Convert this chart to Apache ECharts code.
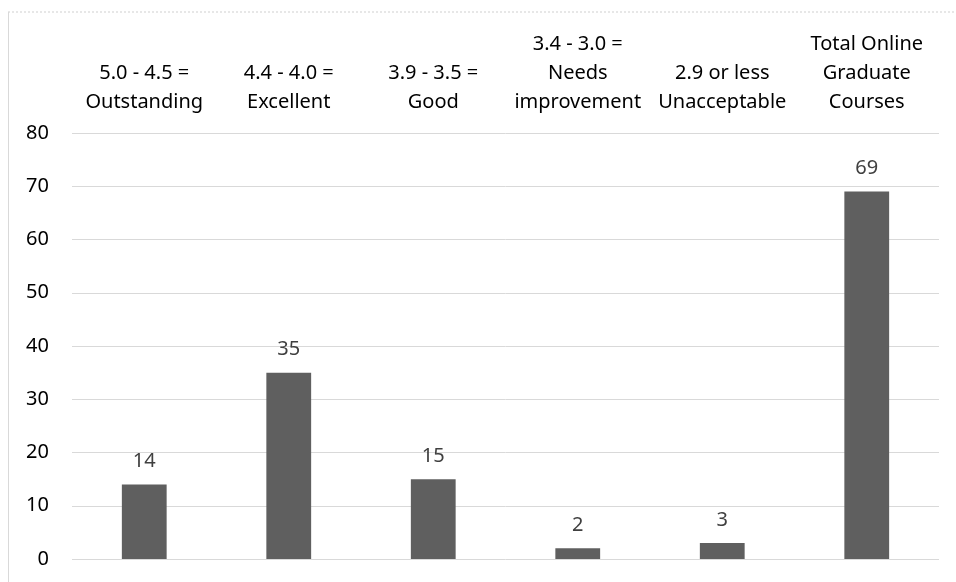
<!DOCTYPE html>
<html>
<head>
<meta charset="utf-8">
<script src="https://cdn.jsdelivr.net/npm/echarts@6/dist/echarts.min.js"></script>
<style>
  html, body { margin: 0; padding: 0; background: #fff; }
  #chart { width: 956px; height: 582px; }
</style>
</head>
<body>
<div id="chart"></div>
<script>
// Rating bands for online graduate courses
const categories = [
  '5.0 - 4.5 =\nOutstanding',
  '4.4 - 4.0 =\nExcellent',
  '3.9 - 3.5 =\nGood',
  '3.4 - 3.0 =\nNeeds\nimprovement',
  '2.9 or less\nUnacceptable',
  'Total Online\nGraduate\nCourses'
];
const courseCounts = [14, 35, 15, 2, 3, 69];
const yTicks = { min: 0, max: 80, interval: 10 };

const FONT = 'Noto Sans';
const chart = echarts.init(document.getElementById('chart'), null, { renderer: 'canvas' });

chart.setOption({
  animation: false,
  backgroundColor: '#ffffff',
  textStyle: { fontFamily: FONT },
  grid: { left: 72, right: 17, top: 133, bottom: 23, containLabel: false },
  graphic: [
    { type: 'line', shape: { x1: 8, y1: 12, x2: 956, y2: 12 },
      style: { stroke: '#d0d0d0', lineWidth: 1, lineDash: [2, 2] }, silent: true },
    { type: 'line', shape: { x1: 8.5, y1: 12, x2: 8.5, y2: 582 },
      style: { stroke: '#d9d9d9', lineWidth: 1 }, silent: true }
  ],
  xAxis: {
    type: 'category',
    position: 'top',
    data: categories,
    axisLine: { show: false },
    axisTick: { show: false },
    axisLabel: {
      interval: 0,
      color: '#000000',
      fontFamily: FONT,
      fontSize: 20,
      lineHeight: 29,
      margin: 16
    }
  },
  yAxis: {
    type: 'value',
    min: yTicks.min,
    max: yTicks.max,
    interval: yTicks.interval,
    axisLine: { show: false },
    axisTick: { show: false },
    splitLine: { show: true, lineStyle: { color: '#d9d9d9', width: 1 } },
    axisLabel: { color: '#000000', fontFamily: FONT, fontSize: 20, margin: 23 }
  },
  series: [{
    type: 'bar',
    data: courseCounts,
    barWidth: '31%',
    itemStyle: { color: '#5f5f5f' },
    label: {
      show: true,
      position: 'top',
      distance: 13,
      color: '#404040',
      fontFamily: FONT,
      fontSize: 20
    }
  }]
});
</script>
</body>
</html>
